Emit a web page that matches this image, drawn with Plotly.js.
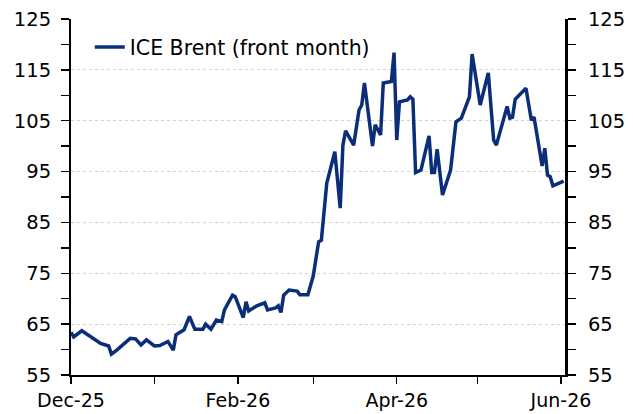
<!DOCTYPE html>
<html>
<head>
<meta charset="utf-8">
<script src="https://cdn.plot.ly/plotly-3.0.1.min.js"></script>
<style>html,body{margin:0;padding:0;background:#fff;}#chart{width:633px;height:414px;}</style>
</head>
<body>
<div id="chart"></div>
<script>
// Data
const seriesName = "ICE Brent (front month)";
const dates = [
"2025-12-01","2025-12-02","2025-12-05","2025-12-10","2025-12-12","2025-12-15","2025-12-16","2025-12-18",
"2025-12-23","2025-12-25","2025-12-27","2025-12-29","2026-01-01","2026-01-03","2026-01-06","2026-01-08",
"2026-01-09","2026-01-12","2026-01-14","2026-01-16","2026-01-19","2026-01-20","2026-01-22","2026-01-24",
"2026-01-26","2026-01-27","2026-01-30","2026-01-31","2026-02-03","2026-02-04","2026-02-05","2026-02-08",
"2026-02-10","2026-02-11","2026-02-12","2026-02-15","2026-02-16","2026-02-17","2026-02-18","2026-02-20",
"2026-02-23","2026-02-24","2026-02-27","2026-03-01","2026-03-02","2026-03-03","2026-03-04","2026-03-06",
"2026-03-09","2026-03-11","2026-03-12","2026-03-13","2026-03-16","2026-03-18","2026-03-19","2026-03-20",
"2026-03-23","2026-03-24","2026-03-26","2026-03-27","2026-03-30","2026-03-31","2026-04-01","2026-04-02",
"2026-04-05","2026-04-06","2026-04-07","2026-04-08","2026-04-10","2026-04-13","2026-04-14","2026-04-15",
"2026-04-16","2026-04-18","2026-04-21","2026-04-23","2026-04-25","2026-04-27","2026-04-28","2026-04-29",
"2026-05-02","2026-05-05","2026-05-07","2026-05-08","2026-05-12","2026-05-13","2026-05-14","2026-05-15",
"2026-05-19","2026-05-21","2026-05-22","2026-05-25","2026-05-26","2026-05-27","2026-05-28","2026-05-29",
"2026-06-02"
];
const brent = [
63.4,62.5,63.7,62.0,61.2,60.7,59.1,59.9,
62.2,62.1,60.9,61.9,60.7,60.8,61.6,59.9,
62.9,63.9,66.5,64.0,64.0,65.0,64.0,65.8,
65.5,67.8,70.7,70.4,66.3,69.4,67.6,68.6,
68.9,69.2,67.8,68.2,68.6,67.3,70.7,71.7,
71.5,70.8,70.8,74.5,77.9,81.2,81.5,92.7,
98.9,87.8,100.2,103.0,100.2,107.1,108.1,112.4,
100.0,104.2,102.2,112.4,112.7,118.4,101.2,108.7,
109.1,109.7,109.2,94.8,95.3,102.0,94.8,94.8,
99.4,90.4,95.3,104.8,105.5,108.1,109.7,118.1,
108.1,114.4,101.2,100.2,107.8,105.5,105.7,109.2,
111.4,105.1,105.7,96.1,99.6,94.3,94.0,92.2,
93.1
];
const xTickVals = ["2025-12-01","2026-02-01","2026-04-01","2026-06-01"];
const xTickText = ["Dec-25","Feb-26","Apr-26","Jun-26"];
const xMinorVals = ["2026-01-01","2026-03-01","2026-05-01"];
const yTickVals = [55,65,75,85,95,105,115,125];
const yMinorVals = [60,70,80,90,100,110,120];
const xRange = ["2025-12-01","2026-06-02 12:00"];
const yRange = [55,125];

const FONT = "DejaVu Sans";
const lineColor = "#0b2e78";

const traces = [
  {x: dates, y: brent, type: "scatter", mode: "lines", name: seriesName,
   line: {color: lineColor, width: 3.5}, yaxis: "y", hoverinfo: "x+y"},
  {x: dates, y: brent, type: "scatter", mode: "lines", name: seriesName + " (right axis)",
   line: {color: "rgba(0,0,0,0)", width: 0}, yaxis: "y2", showlegend: false, hoverinfo: "skip"}
];

const yCommon = {
  range: yRange, tickmode: "array", tickvals: yTickVals,
  ticks: "outside", ticklen: 8, tickwidth: 1.5, tickcolor: "#000",
  showline: true, linecolor: "#000", zeroline: false,
  tickfont: {family: FONT, size: 19.5, color: "#000"},
  minor: {tickmode: "array", tickvals: yMinorVals, ticks: "outside", ticklen: 8, tickwidth: 1.5, tickcolor: "#000", showgrid: false}
};

const layout = {
  width: 633, height: 414,
  margin: {l: 71, r: 68, t: 19, b: 39, pad: 0},
  paper_bgcolor: "#fff", plot_bgcolor: "#fff",
  font: {family: FONT, color: "#000"},
  showlegend: true,
  legend: {x: 0.038, y: 0.921, xanchor: "left", yanchor: "middle",
           bgcolor: "rgba(0,0,0,0)", borderwidth: 0,
           font: {family: FONT, size: 20.5, color: "#000"}},
  xaxis: {
    type: "date", range: xRange, tickmode: "array", tickvals: xTickVals, ticktext: xTickText,
    ticks: "outside", ticklen: 7, tickwidth: 1.5, tickcolor: "#000", ticklabelstandoff: 0,
    showline: true, linecolor: "#000", linewidth: 2, showgrid: false, zeroline: false,
    tickfont: {family: FONT, size: 19, color: "#000"},
    minor: {tickmode: "array", tickvals: xMinorVals, ticks: "outside", ticklen: 7, tickwidth: 1.5, tickcolor: "#000", showgrid: false}
  },
  yaxis: Object.assign({}, yCommon, {
    side: "left", linewidth: 2, ticklabelstandoff: 6,
    showgrid: true, gridcolor: "#d2d2d2", griddash: "dot", gridwidth: 1
  }),
  yaxis2: Object.assign({}, yCommon, {
    side: "right", overlaying: "y", anchor: "x", linewidth: 3, ticklabelstandoff: 8, showgrid: false
  })
};

Plotly.newPlot("chart", traces, layout, {displayModeBar: false, staticPlot: true});
</script>
</body>
</html>
